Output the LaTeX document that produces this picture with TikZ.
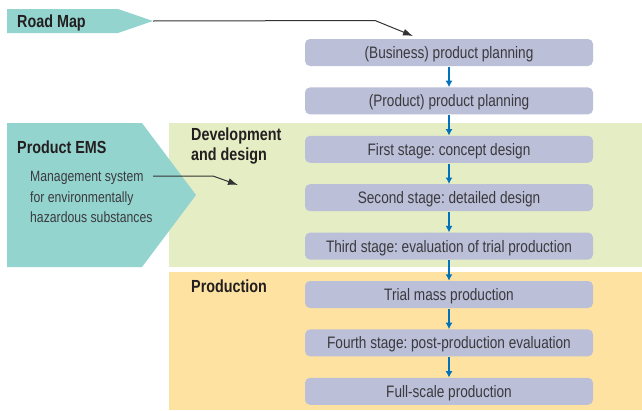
\documentclass[tikz,border=0pt]{standalone}
\usepackage{fontspec}
\setmainfont{Liberation Sans}[FakeStretch=0.82]
\usetikzlibrary{arrows.meta}
\frenchspacing
\definecolor{teal}{RGB}{148,212,207}
\definecolor{boxfill}{RGB}{187,191,216}
\definecolor{greenbg}{RGB}{229,237,196}
\definecolor{orangebg}{RGB}{254,226,161}
\definecolor{flowblue}{RGB}{0,114,188}
\definecolor{txtdark}{RGB}{35,31,32}
\definecolor{txtbox}{RGB}{58,58,62}
\tikzset{
  stagebox/.style={draw=none, fill=boxfill, rounded corners=5pt, minimum width=288pt,
    minimum height=27pt, inner sep=0pt, text height=12pt, text depth=0pt,
    text=txtbox, font=\fontsize{16.6}{19}\selectfont},
  flowarrow/.style={draw=flowblue, line width=2.2pt, -{Latex[length=6.5pt,width=7pt]}, shorten <=0.5pt},
  pointer/.style={draw=black!80, line width=1pt, -{Latex[length=10pt,width=7pt]}},
  headtxt/.style={font=\fontsize{17.5}{19.5}\selectfont\bfseries, text=txtdark, inner sep=0pt},
  sidetxt/.style={font=\fontsize{14.9}{20.5}\selectfont, text=txtbox, inner sep=0pt, align=left}
}
\begin{document}
\begin{tikzpicture}[x=1pt,y=-1pt]
\useasboundingbox (0,0) rectangle (642,410);
% background regions
\fill[greenbg] (169,123) rectangle (642,267);
\fill[orangebg] (169,272) rectangle (642,410);
% banners
\fill[teal] (7,9) -- (118,9) -- (153,21) -- (118,33) -- (7,33) -- cycle;
\fill[teal] (7,123) -- (142,123) -- (196,195) -- (142,267) -- (7,267) -- cycle;
\coordinate (rmtip) at (153,21);
\coordinate (rmbend) at (375,20.5);
\coordinate (rmend) at (413,36);
\coordinate (emsstart) at (153,176);
\coordinate (emsbend) at (213,176);
\coordinate (emsend) at (238,185);
% labels
\node[headtxt, anchor=base west] (roadmap) at (17,27) {Road Map};
\node[headtxt, anchor=base west] (productems) at (17,153) {Product EMS};
\node[sidetxt, anchor=north west] (mgmt) at (30,171.5) {Management system\\for environmentally\\hazardous substances};
\node[headtxt, anchor=north west, align=left] (devdesign) at (191,128) {Development\\and design};
\node[headtxt, anchor=base west] (production) at (191,292) {Production};
% stage boxes
\node[stagebox] (s1) at (449,52.5) {(Business) product planning};
\node[stagebox] (s2) at (449,100.9) {(Product) product planning};
\node[stagebox] (s3) at (449,149.3) {First stage: concept design};
\node[stagebox] (s4) at (449,197.7) {Second stage: detailed design};
\node[stagebox] (s5) at (449,246.1) {Third stage: evaluation of trial production};
\node[stagebox] (s6) at (449,294.5) {Trial mass production};
\node[stagebox] (s7) at (449,342.9) {Fourth stage: post-production evaluation};
\node[stagebox] (s8) at (449,391.3) {Full-scale production};
% flow arrows
\foreach \a/\b in {s1/s2,s2/s3,s3/s4,s4/s5,s5/s6,s6/s7,s7/s8}
  \draw[flowarrow] (\a.south) -- (\b.north);
% pointers
\draw[pointer] (rmtip) -- (rmbend) -- (rmend);
\draw[pointer] (emsstart) -- (emsbend) -- (emsend);
\end{tikzpicture}
\end{document}
